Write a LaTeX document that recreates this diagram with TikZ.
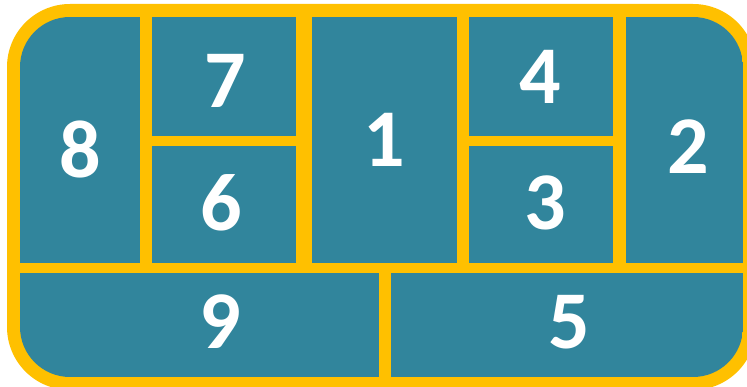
\documentclass[tikz,border=0pt]{standalone}
\usepackage{fontspec}
\setmainfont{Carlito}
\usepackage{tikz}
\usetikzlibrary{positioning}
\definecolor{frameyellow}{HTML}{FFC000}
\definecolor{cellteal}{HTML}{31859C}
\tikzset{
  cell/.style={fill=cellteal},
  num/.style={text=white, font=\fontsize{82}{82}\selectfont\bfseries, inner sep=0pt}
}

\begin{document}
\begin{tikzpicture}[x=1pt, y=-1pt]
  \useasboundingbox (0, 0) rectangle (747, 387);
  % Frame
  \fill[frameyellow, rounded corners=63] (7, 4) rectangle (756, 390);

  \begin{scope}
    \clip[rounded corners=50] (20, 17) rectangle (743, 377);
    % Top row
    \fill[cell] (20, 17) rectangle (140, 263);
    \fill[cell] (152, 17) rectangle (296, 136);
    \fill[cell] (152, 146) rectangle (296, 263);
    \fill[cell] (312, 17) rectangle (457, 263);
    \fill[cell] (469, 17) rectangle (613, 136);
    \fill[cell] (469, 146) rectangle (613, 263);
    \fill[cell] (626, 17) rectangle (743, 263);
    % Bottom row
    \fill[cell] (20, 273) rectangle (379, 377);
    \fill[cell] (391, 273) rectangle (743, 377);
  \end{scope}

  % Numbers
  \node[num] (n8) at (80, 149) {8};
  \node[num] (n7) at (225, 81) {7};
  \node[num] (n6) at (221, 203) {6};
  \node[num] (n1) at (384, 140) {1};
  \node[num] (n4) at (540, 77) {4};
  \node[num] (n3) at (545, 203) {3};
  \node[num] (n2) at (688, 147) {2};
  \node[num] (n9) at (220, 322) {9};
  \node[num] (n5) at (569, 322) {5};
\end{tikzpicture}
\end{document}
